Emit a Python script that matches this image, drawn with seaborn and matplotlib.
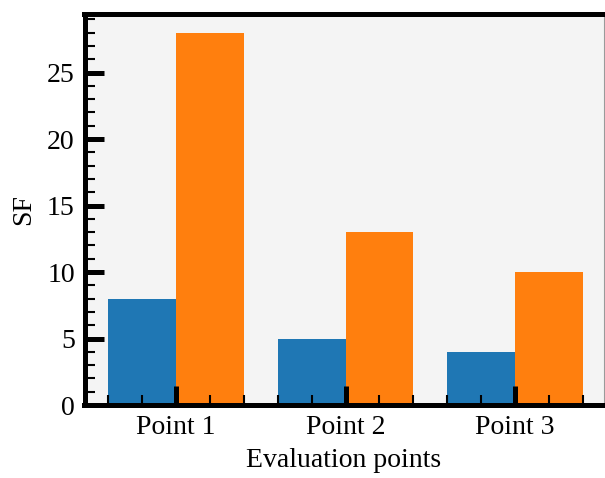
import matplotlib
matplotlib.use("Agg")
import matplotlib.pyplot as plt
from matplotlib.ticker import MultipleLocator
import pandas as pd
import seaborn as sns

# Safety factor at each evaluation point for the two configurations
points = ["Point 1", "Point 2", "Point 3"]
series_names = ["Case A", "Case B"]
case_a_sf = [8, 5, 4]
case_b_sf = [28, 13, 10]
bar_colors = ["#1f77b4", "#ff7f0e"]

df = pd.DataFrame({
    "point": points * 2,
    "case": [series_names[0]] * len(points) + [series_names[1]] * len(points),
    "sf": case_a_sf + case_b_sf,
})

sns.set_theme(style="white")
plt.rcParams["font.family"] = ["Liberation Serif", "DejaVu Serif"]
plt.rcParams["mathtext.fontset"] = "stix"
plt.rcParams["text.color"] = "black"
plt.rcParams["axes.labelcolor"] = "black"
plt.rcParams["xtick.color"] = "black"
plt.rcParams["ytick.color"] = "black"

fig = plt.figure(figsize=(6.05, 4.78), dpi=100)
ax = fig.add_axes([84.5 / 605, 0.1527, (603.5 - 84.5) / 605, 0.9707 - 0.1527])
ax.set_facecolor("#f4f4f4")

sns.barplot(data=df, x="point", y="sf", hue="case", palette=bar_colors,
            width=0.8, saturation=1, legend=False, linewidth=0, ax=ax)

ax.set_axisbelow(False)
ax.set_xlim(-0.54, 2.522)
ax.set_ylim(0, max(case_b_sf) * 1.05)

ax.set_xlabel("Evaluation points", fontsize=20, labelpad=6, color="black")
ax.set_ylabel("SF", fontsize=20, labelpad=8, color="black")

ax.yaxis.set_major_locator(MultipleLocator(5))
ax.yaxis.set_minor_locator(MultipleLocator(1))
ax.xaxis.set_minor_locator(MultipleLocator(0.2))

ax.tick_params(which="major", direction="in", length=14, width=3.6,
               labelsize=20, color="black", labelcolor="black",
               bottom=True, left=True, top=False, right=False, pad=7)
ax.tick_params(which="minor", direction="in", length=7, width=1.5,
               color="black", bottom=True, left=True, top=False, right=False)

for side in ["left", "bottom", "top"]:
    ax.spines[side].set_visible(True)
    ax.spines[side].set_color("black")
    ax.spines[side].set_linewidth(3.6)
    ax.spines[side].set_zorder(5)
ax.spines["right"].set_visible(True)
ax.spines["right"].set_color("#9a9a9a")
ax.spines["right"].set_linewidth(0.8)

fig.savefig("out.png", dpi=100)
